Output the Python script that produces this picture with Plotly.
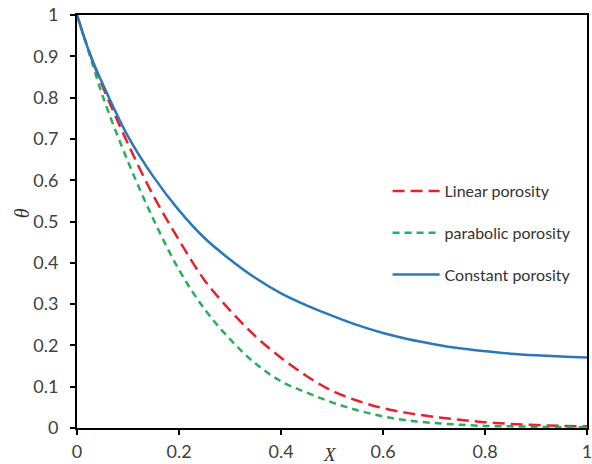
import plotly.graph_objects as go

x_vals = [0, 0.025, 0.05, 0.1, 0.15, 0.2, 0.25, 0.3, 0.35, 0.4, 0.45, 0.5, 0.55, 0.6, 0.65, 0.7, 0.75, 0.8, 0.85, 0.9, 0.95, 1.0]
theta_linear = [1, 0.907, 0.828, 0.688, 0.562, 0.455, 0.358, 0.285, 0.222, 0.17, 0.126, 0.09, 0.066, 0.048, 0.036, 0.027, 0.02, 0.014, 0.01, 0.007, 0.005, 0.004]
theta_parabolic = [1, 0.903, 0.805, 0.645, 0.505, 0.383, 0.288, 0.215, 0.156, 0.113, 0.086, 0.062, 0.043, 0.028, 0.018, 0.012, 0.008, 0.005, 0.004, 0.003, 0.002, 0.002]
theta_constant = [1, 0.907, 0.834, 0.706, 0.608, 0.527, 0.46, 0.408, 0.363, 0.326, 0.297, 0.272, 0.249, 0.23, 0.215, 0.203, 0.193, 0.186, 0.18, 0.176, 0.173, 0.171]

names = ["Linear porosity", "parabolic porosity", "Constant porosity"]
tick_vals_x = [0, 0.2, 0.4, 0.6, 0.8, 1]
tick_vals_y = [0, 0.1, 0.2, 0.3, 0.4, 0.5, 0.6, 0.7, 0.8, 0.9, 1]

fig = go.Figure()
fig.add_trace(go.Scatter(x=x_vals, y=theta_linear, mode="lines", name=names[0], legendgroup="a",
                         line=dict(color="#E8202A", width=2.5, dash="12px,6px", shape="spline")))
fig.add_trace(go.Scatter(x=x_vals, y=theta_parabolic, mode="lines", name=names[1], legendgroup="b",
                         line=dict(color="#2BAE5A", width=2.5, dash="7px,5px", shape="spline")))
fig.add_trace(go.Scatter(x=x_vals, y=theta_constant, mode="lines", name=names[2], legendgroup="c",
                         line=dict(color="#2A77BA", width=2.5, shape="spline")))

axis_common = dict(showline=True, linecolor="black", linewidth=2, mirror=True, showgrid=False,
                   zeroline=False, ticks="outside", ticklen=5, tickwidth=2, tickcolor="black",
                   automargin=False, ticklabeloverflow="allow",
                   tickfont=dict(family="Lato", size=18, color="#404040"))
fig.update_xaxes(range=[0, 1], tickvals=tick_vals_x, ticklabelstandoff=1, **axis_common)
fig.update_yaxes(range=[0, 1], tickvals=tick_vals_y, ticklabelstandoff=8, **axis_common)

fig.update_layout(
    width=592, height=464,
    margin=dict(l=77, r=5, t=15, b=36, autoexpand=False),
    paper_bgcolor="white", plot_bgcolor="white",
    showlegend=True,
    legend=dict(x=0.609, y=0.615, xanchor="left", yanchor="top", bgcolor="rgba(0,0,0,0)",
                itemwidth=47,
                font=dict(family="Lato", size=16, color="#333333"), tracegroupgap=18),
    annotations=[
        dict(text="<i>θ</i>", xref="paper", yref="paper", x=-0.108, y=0.52, showarrow=False,
             xanchor="center", yanchor="middle",
             textangle=-90, font=dict(family="Liberation Serif", size=20, color="#333333")),
        dict(text="<i>X</i>", xref="paper", yref="paper", x=0.497, y=-0.065, xanchor="center",
             yanchor="middle", showarrow=False,
             font=dict(family="Liberation Serif", size=19, color="#333333")),
    ],
)

fig.write_html("out.html")
